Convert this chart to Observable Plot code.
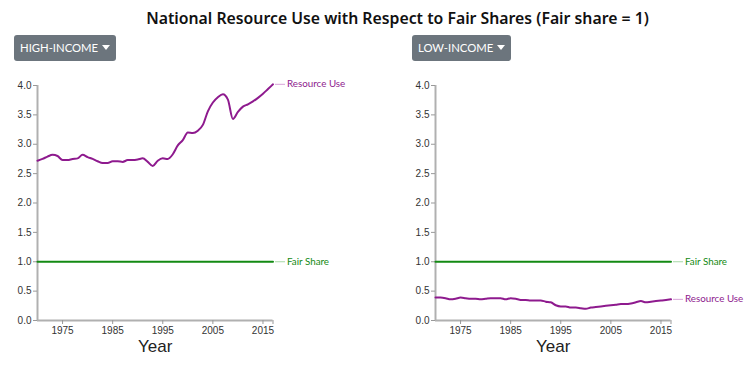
<!DOCTYPE html>
<html><head><meta charset="utf-8">
<script src="https://cdn.jsdelivr.net/npm/d3@7"></script>
<script src="https://cdn.jsdelivr.net/npm/@observablehq/plot@0.6"></script>
<style>
body{margin:0;width:754px;height:366px;overflow:hidden;background:#fff;position:relative;font-family:"Liberation Sans",Arial,sans-serif;}
#title{position:absolute;left:0;top:7px;width:795px;text-align:center;font-family:"Noto Sans";font-weight:600;font-size:15.8px;color:#111;white-space:nowrap;}
.btn{position:absolute;top:35px;height:26px;background:#6c757d;border-radius:3px;color:#fff;font-family:Lato,"Noto Sans",sans-serif;font-size:11.3px;line-height:26px;padding:0 6px;box-sizing:border-box;white-space:nowrap;}
.caret{display:inline-block;width:0;height:0;border-top:5px solid #fff;border-left:4.5px solid transparent;border-right:4.5px solid transparent;vertical-align:middle;margin-left:4px;margin-top:-3px}
.panel{position:absolute;top:70px;}
</style>
</head><body>
<div id="title">National Resource Use with Respect to Fair Shares (Fair share = 1)</div>
<div class="btn" style="left:14px">HIGH-INCOME<span class="caret"></span></div>
<div class="btn" style="left:412px">LOW-INCOME<span class="caret"></span></div>
<div class="panel" id="p1" style="left:0px"></div>
<div class="panel" id="p2" style="left:398px"></div>
<script>
const years = [1970,1971,1972,1973,1974,1975,1976,1977,1978,1979,
  1980,1981,1982,1983,1984,1985,1986,1987,1988,1989,
  1990,1991,1992,1993,1994,1995,1996,1997,1998,1999,
  2000,2001,2002,2003,2004,2005,2006,2007,2008,2009,
  2010,2011,2012,2013,2014,2015,2016,2017];
const highIncome = [2.72,2.75,2.79,2.82,2.80,2.73,2.73,2.75,2.76,2.82,
  2.78,2.75,2.71,2.68,2.68,2.71,2.71,2.70,2.73,2.73,
  2.74,2.76,2.70,2.63,2.72,2.76,2.75,2.83,2.98,3.07,
  3.20,3.19,3.23,3.33,3.56,3.71,3.80,3.85,3.76,3.43,
  3.55,3.64,3.68,3.73,3.79,3.86,3.94,4.02];
const lowIncome = [0.39,0.39,0.38,0.36,0.37,0.39,0.38,0.37,0.37,0.36,
  0.37,0.38,0.38,0.38,0.36,0.38,0.37,0.35,0.35,0.34,
  0.34,0.34,0.32,0.31,0.26,0.24,0.24,0.22,0.22,0.21,
  0.20,0.22,0.23,0.24,0.25,0.26,0.27,0.28,0.28,0.29,
  0.31,0.33,0.31,0.32,0.33,0.34,0.35,0.36];
const fairShare = 1;
const yTicks = [0,0.5,1,1.5,2,2.5,3,3.5,4];
const xTicks = [1975,1985,1995,2005,2015];
const seriesLabels = ["Resource Use", "Fair Share"];

const purple = "#8e1a8e", green = "#138a13";

function panel(values) {
  const use = years.map((yr, i) => ({year: yr, value: values[i]}));
  const fair = years.map(yr => ({year: yr, value: fairShare}));
  const first = years[0], last = years[years.length - 1];
  const ends = [
    {label: seriesLabels[0], value: values[values.length - 1], color: purple, lead: "#d9a3d9"},
    {label: seriesLabels[1], value: fairShare, color: green, lead: "#a6d8a6"}
  ];
  return Plot.plot({
    width: 356, height: 296,
    marginLeft: 37, marginRight: 83.5, marginTop: 15, marginBottom: 46,
    style: {fontFamily: "'Liberation Sans', Arial, sans-serif", background: "#fff", overflow: "visible"},
    x: {domain: [first, last]},
    y: {domain: [0, 4]},
    marks: [
      Plot.ruleX([first], {stroke: "#b0b0b0", strokeWidth: 2}),
      Plot.ruleY([0], {stroke: "#b0b0b0", strokeWidth: 2}),
      Plot.axisY({ticks: yTicks, tickFormat: d3.format(".1f"), tickSize: 4, tickPadding: 2, fontSize: 10, stroke: "#999", fill: "#333", label: null}),
      Plot.axisX({ticks: xTicks, tickFormat: d3.format("d"), tickSize: 4, tickPadding: 2, fontSize: 10, stroke: "#999", fill: "#333", label: null}),
      Plot.axisX({ticks: [last], tickFormat: () => "", tickSize: 4, stroke: "#999", label: null}),
      Plot.line(fair, {x: "year", y: "value", stroke: green, strokeWidth: 2}),
      Plot.line(use, {x: "year", y: "value", stroke: purple, strokeWidth: 2, curve: "monotone-x"}),
      Plot.ruleY(ends, {y: "value", x1: last + 0.5, x2: last + 2.5, stroke: "lead", strokeWidth: 1}),
      Plot.text(ends, {x: last, y: "value", text: "label", fill: "color", dx: 14, textAnchor: "start", fontSize: 9.8, fontFamily: "Lato, sans-serif"}),
      Plot.text(["Year"], {frameAnchor: "bottom", dy: 26, lineAnchor: "middle", fontSize: 17, fill: "#222"})
    ]
  });
}
document.getElementById("p1").appendChild(panel(highIncome));
document.getElementById("p2").appendChild(panel(lowIncome));
</script>
</body></html>
